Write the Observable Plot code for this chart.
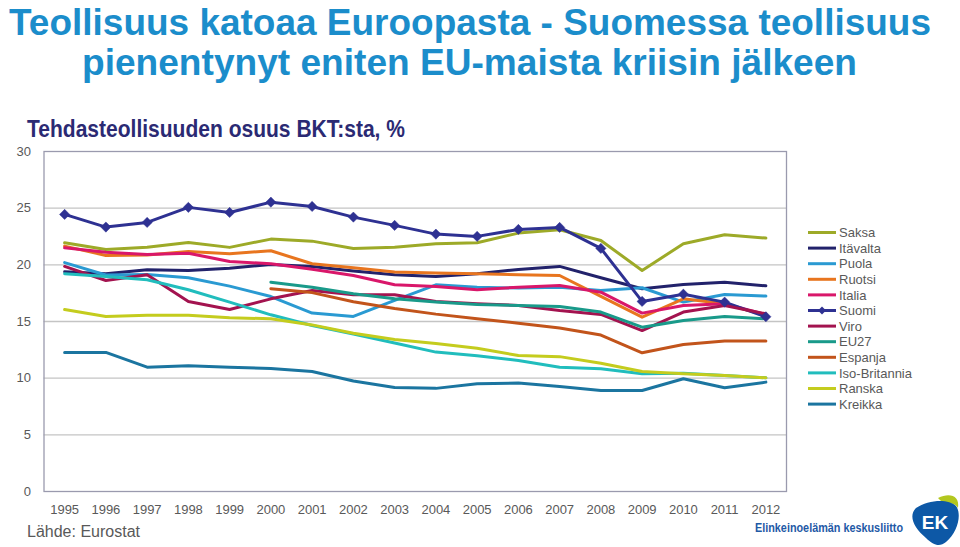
<!DOCTYPE html>
<html>
<head>
<meta charset="utf-8">
<script src="https://cdn.jsdelivr.net/npm/d3@7"></script>
<script src="https://cdn.jsdelivr.net/npm/@observablehq/plot@0.6"></script>
<style>
  body { margin: 0; background: #fff; font-family: "Liberation Sans", Arial, sans-serif; }
  #wrap { position: relative; width: 960px; height: 547px; overflow: hidden; background: #fff; }
  #overlay { position: absolute; left: 0; top: 0; }
  #chart { position: absolute; left: 0; top: 135px; }
</style>
</head>
<body>
<div id="wrap">
  <div id="chart"></div>
  <svg id="overlay" width="960" height="547"></svg>
</div>
<script>
// ---- Data ----
const years = [1995,1996,1997,1998,1999,2000,2001,2002,2003,2004,2005,2006,2007,2008,2009,2010,2011,2012];
const seriesNames = ["Saksa","Itävalta","Puola","Ruotsi","Italia","Suomi","Viro","EU27","Espanja","Iso-Britannia","Ranska","Kreikka"];
const seriesColors = ["#9DAA28","#22226B","#2A9AD2","#E8751F","#D9176A","#2E3192","#A3134F","#199A8A","#C2541B","#21BDBD","#C4CC1E","#1B75A0"];

const saksa        = [21.95,21.36,21.56,21.98,21.54,22.27,22.09,21.45,21.56,21.86,21.95,22.8,23.1,22.15,19.5,21.86,22.66,22.36];
const itavalta     = [19.39,19.21,19.56,19.5,19.7,20.03,19.86,19.45,19.12,18.98,19.21,19.59,19.86,18.86,17.89,18.27,18.47,18.15];
const puola        = [20.2,19.1,19.15,18.86,18.12,17.2,15.74,15.45,16.86,18.24,18.03,17.95,18.03,17.74,17.98,16.71,17.39,17.24];
const ruotsi       = [21.65,20.83,20.86,21.18,20.98,21.24,20.1,19.74,19.36,19.27,19.21,19.12,19.06,17.21,15.38,17.0,16.56,15.53];
const italia       = [21.5,21.12,20.92,21.03,20.3,20.1,19.62,19.06,18.24,18.09,17.8,18.03,18.18,17.59,15.74,16.42,16.56,15.62];
const suomi        = [24.45,23.33,23.74,25.07,24.62,25.53,25.15,24.21,23.48,22.71,22.51,23.12,23.3,21.45,16.77,17.41,16.71,15.42];
const viro         = [19.86,18.62,19.12,16.77,16.06,17.0,17.74,17.36,17.36,16.77,16.56,16.42,15.97,15.62,14.2,15.83,16.42,15.68];
const eu27         = [null,null,null,null,null,18.47,18.03,17.45,17.0,16.71,16.5,16.42,16.33,15.83,14.5,15.09,15.45,15.24];
const espanja      = [null,null,null,null,null,17.89,17.55,16.75,16.15,15.65,15.25,14.85,14.42,13.8,12.24,12.97,13.27,13.27];
const isoBritannia = [19.21,18.98,18.68,17.8,16.71,15.59,14.65,13.9,13.1,12.3,11.97,11.56,10.97,10.83,10.39,10.44,10.24,10.03];
const ranska       = [16.06,15.45,15.56,15.56,15.33,15.24,14.7,13.97,13.42,13.05,12.64,12.0,11.9,11.32,10.59,10.39,10.24,10.03];
const kreikka      = [12.27,12.27,10.97,11.09,10.97,10.86,10.59,9.75,9.18,9.1,9.5,9.57,9.27,8.91,8.91,9.95,9.15,9.65];
const yTicks = [0,5,10,15,20,25,30];

const seriesValues = [saksa,itavalta,puola,ruotsi,italia,suomi,viro,eu27,espanja,isoBritannia,ranska,kreikka];

// long table built from the arrays
const rows = [];
seriesNames.forEach((name, i) => {
  seriesValues[i].forEach((v, j) => {
    if (v != null) rows.push({series: name, year: years[j], value: v});
  });
});
const suomiRows = rows.filter(d => d.series === "Suomi");

const grey = "#595959";

const chart = Plot.plot({
  width: 960,
  height: 395,
  marginTop: 16,
  marginBottom: 39,
  marginLeft: 43.5,
  marginRight: 174,
  style: {fontFamily: '"Liberation Sans", Arial, sans-serif', fontSize: "13px", color: grey, background: "transparent"},
  x: {domain: [1994.5, 2012.5], ticks: years, tickFormat: d => String(d), tickSize: 0, tickPadding: 13, label: null},
  y: {domain: [0, 30], ticks: yTicks, tickSize: 0, tickPadding: 13, label: null},
  color: {domain: seriesNames, range: seriesColors},
  marks: [
    Plot.ruleY([5,10,15,20,25], {stroke: "#C4C4C4", strokeWidth: 1.3}),
    Plot.frame({stroke: "#9A9AAE", strokeWidth: 1.3}),
    Plot.line(rows, {x: "year", y: "value", z: "series", stroke: "series", strokeWidth: 3, strokeLinejoin: "round", strokeLinecap: "round"}),
    Plot.dot(suomiRows, {x: "year", y: "value", symbol: "diamond2", r: 4.6, fill: "#2E3192", stroke: "#2E3192", strokeWidth: 0.5})
  ]
});
document.getElementById("chart").appendChild(chart);

// ---- Overlay texts: title, subtitle, legend, source, logo ----
const ov = d3.select("#overlay");
const titleColor = "#1B8DCB";
ov.append("text").attr("x", 470).attr("y", 35).attr("text-anchor", "middle")
  .attr("font-size", 37).attr("font-weight", "bold").attr("fill", titleColor)
  .attr("textLength", 922).attr("lengthAdjust", "spacingAndGlyphs")
  .text("Teollisuus katoaa Euroopasta - Suomessa teollisuus");
ov.append("text").attr("x", 469.5).attr("y", 75).attr("text-anchor", "middle")
  .attr("font-size", 37).attr("font-weight", "bold").attr("fill", titleColor)
  .attr("textLength", 775).attr("lengthAdjust", "spacingAndGlyphs")
  .text("pienentynyt eniten EU-maista kriisin jälkeen");
ov.append("text").attr("x", 27).attr("y", 137)
  .attr("font-size", 24).attr("font-weight", "bold").attr("fill", "#2B2A73")
  .attr("textLength", 378).attr("lengthAdjust", "spacingAndGlyphs")
  .text("Tehdasteollisuuden osuus BKT:sta, %");

// legend
const lg = ov.append("g");
seriesNames.forEach((name, i) => {
  const y = 232.5 + i * 15.6;
  lg.append("line").attr("x1", 808).attr("x2", 836).attr("y1", y).attr("y2", y)
    .attr("stroke", seriesColors[i]).attr("stroke-width", 3);
  if (name === "Suomi") {
    lg.append("path").attr("d", d3.symbol(d3.symbolDiamond2, 40)())
      .attr("transform", `translate(822,${y})`).attr("fill", seriesColors[i]);
  }
  lg.append("text").attr("x", 839).attr("y", y).attr("dy", "0.36em")
    .attr("font-size", 13).attr("fill", grey).text(name);
});

// source
ov.append("text").attr("x", 27).attr("y", 537).attr("font-size", 16).attr("fill", grey).text("Lähde: Eurostat");

// logo
ov.append("text").attr("x", 755).attr("y", 532).attr("font-size", 12.5).attr("font-weight", "bold")
  .attr("fill", "#1F5AA6").attr("textLength", 148).attr("lengthAdjust", "spacingAndGlyphs")
  .text("Elinkeinoelämän keskusliitto");
const logo = ov.append("g").attr("transform", "translate(908,494)");
logo.append("path").attr("d", "M30,4 C42,-2 52,2 50,14 C48,10 42,8 36,10 Z").attr("fill", "#B3C71F");
logo.append("path").attr("d", "M8,14 C20,6 40,4 48,12 C54,20 50,38 38,48 C32,53 26,52 18,44 C6,34 0,22 8,14 Z").attr("fill", "#0D58A6");
logo.append("text").attr("x", 27).attr("y", 35).attr("text-anchor", "middle").attr("font-size", 19)
  .attr("font-weight", "bold").attr("fill", "#fff").text("EK");
</script>
</body>
</html>
